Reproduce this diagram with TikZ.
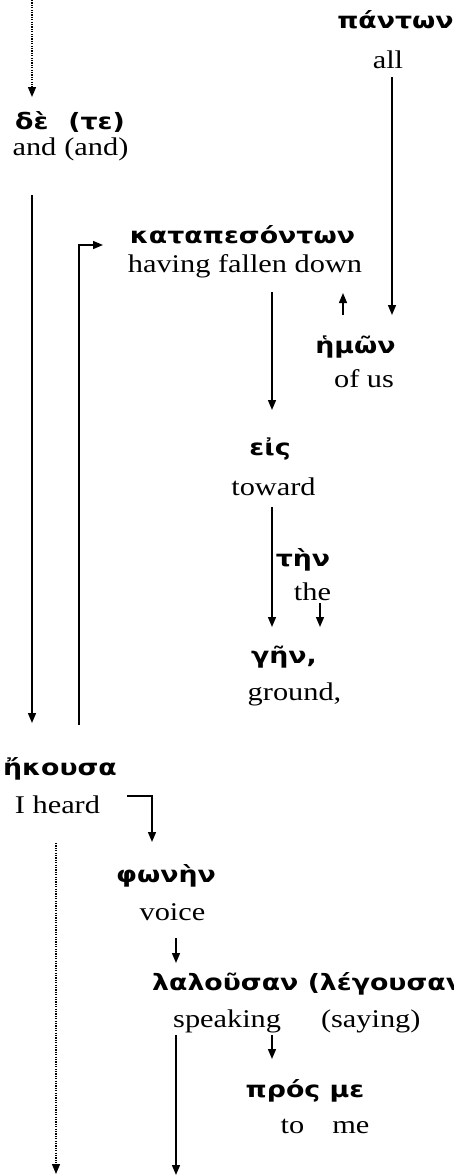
\documentclass[tikz,border=0pt]{standalone}
\usepackage{fontspec}
\setmainfont{Liberation Serif}[FakeStretch=1.19]
\newfontfamily\grk{DejaVu Sans}[FakeStretch=1.19]
\usetikzlibrary{arrows.meta}
\begin{document}
\begin{tikzpicture}[x=1pt,y=-1pt,
  gw/.style={inner sep=0pt,anchor=base,font=\grk\bfseries\fontsize{22.5}{26}\selectfont},
  ew/.style={inner sep=0pt,anchor=base,font=\fontsize{25.5}{30}\selectfont},
  conn/.style={line width=1.4pt,-{Triangle[length=10pt,width=8pt]}},
  dots/.style={line width=1.3pt,dash pattern=on 1.2pt off 1.2pt,-{Triangle[length=10pt,width=8pt]}}]
\useasboundingbox (0,0) rectangle (453,1176);
% words
\node[gw] (gpanton) at (395.5,28) {πάντων};
\node[ew] (eall) at (388,68) {all};
\node[gw] (gde) at (70,129) {δὲ\hspace{20pt}(τε)};
\node[ew] (eand) at (70.5,155) {and\hspace{8pt}(and)};
\node[gw] (gkatap) at (242.5,243) {καταπεσόντων};
\node[ew] (efallen) at (245,272) {having fallen down};
\node[gw] (ghemon) at (355.5,353) {ἡμῶν};
\node[ew] (eofus) at (364,387) {of us};
\node[gw] (geis) at (270,455) {εἰς};
\node[ew] (etoward) at (273.5,495) {toward};
\node[gw] (gten) at (303,566) {τὴν};
\node[ew] (ethe) at (312.5,600) {the};
\node[gw] (ggen) at (284,663) {γῆν,};
\node[ew] (eground) at (294.5,700) {ground,};
\node[gw] (gekousa) at (60,775) {ἤκουσα};
\node[ew] (eheard) at (57.5,813) {I heard};
\node[gw] (gphonen) at (166,882) {φωνὴν};
\node[ew] (evoice) at (172.5,920) {voice};
\node[gw,anchor=base west] (glalousan) at (152,990) {λαλοῦσαν (λέγουσαν)};
\node[ew,anchor=base west] (espeaking) at (173,1027) {speaking\hspace{40pt}(saying)};
\node[gw] (gpros) at (305,1097) {πρός με};
\node[ew] (etome) at (325,1133) {to\hspace{28pt}me};
% connector end points
\coordinate (top) at (32,0);
\coordinate (deIn) at (32,97);
\coordinate (deOut) at (32,195);
\coordinate (ekIn) at (32,723);
\coordinate (ekOut) at (79,725);
\coordinate (katIn) at (103,245);
\coordinate (allOut) at (392,77);
\coordinate (hemIn) at (392,315);
\coordinate (hemOut) at (343,315);
\coordinate (fallIn) at (343,293);
\coordinate (fallOut) at (272,292);
\coordinate (eisIn) at (272,410);
\coordinate (towOut) at (272,507);
\coordinate (genIn) at (272,627);
\coordinate (theOut) at (320,603);
\coordinate (genIn2) at (320,627);
\coordinate (heardOut) at (127,796);
\coordinate (phoIn) at (152,842);
\coordinate (dotTop) at (56,843);
\coordinate (dotEnd) at (56,1174);
\coordinate (voiceOut) at (176,938);
\coordinate (lalIn) at (176,963);
\coordinate (speakOut) at (176,1035);
\coordinate (speakEnd) at (176,1175);
\coordinate (speakOut2) at (272,1035);
\coordinate (prosIn) at (272,1059);
% connectors
\draw[dots] (top) -- (deIn);
\draw[conn] (deOut) -- (ekIn);
\draw[conn] (ekOut) |- (katIn);
\draw[conn] (allOut) -- (hemIn);
\draw[conn] (hemOut) -- (fallIn);
\draw[conn] (fallOut) -- (eisIn);
\draw[conn] (towOut) -- (genIn);
\draw[conn] (theOut) -- (genIn2);
\draw[conn] (heardOut) -| (phoIn);
\draw[dots] (dotTop) -- (dotEnd);
\draw[conn] (voiceOut) -- (lalIn);
\draw[conn] (speakOut) -- (speakEnd);
\draw[conn] (speakOut2) -- (prosIn);
\end{tikzpicture}
\end{document}
